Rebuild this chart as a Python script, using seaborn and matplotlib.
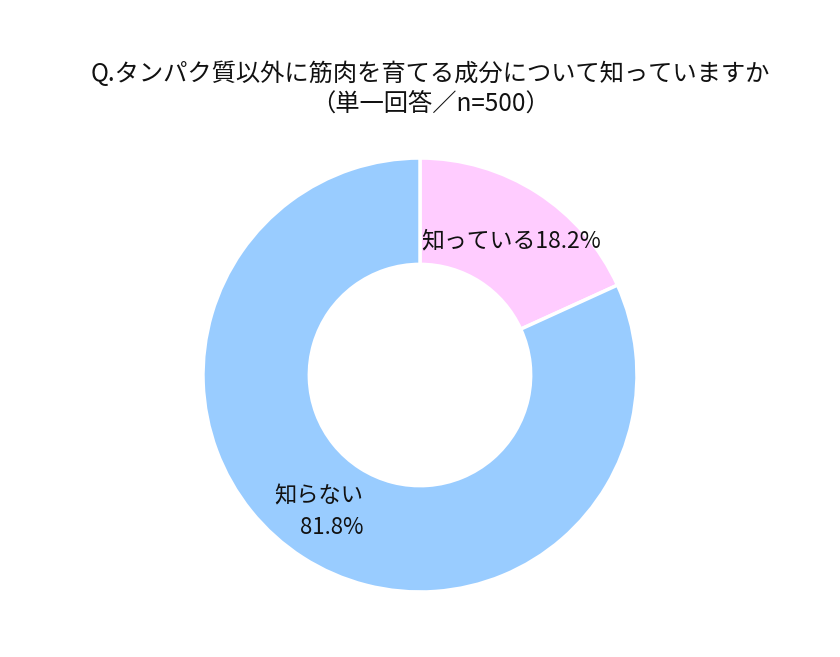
import matplotlib
matplotlib.use("Agg")
import matplotlib.pyplot as plt
import seaborn as sns

labels = ["知っている", "知らない"]
values = [18.2, 81.8]
colors = ["#FFCCFF", "#99CCFF"]
title = "Q.タンパク質以外に筋肉を育てる成分について知っていますか\n（単一回答／n=500）"

sns.set_theme(style="white")
plt.rcParams['font.family'] = ['Noto Sans CJK JP', 'DejaVu Sans']

fig = plt.figure(figsize=(8.4, 6.57), dpi=100)
ax = fig.add_axes([0.1771, 0.01636, 0.6458, 0.8257])
wedges, _ = ax.pie(values, colors=colors, startangle=90, counterclock=False,
                   radius=1.0, wedgeprops=dict(width=0.49, edgecolor="white", linewidth=2.5))
ax.set_xlim(-1.25, 1.25)
ax.set_ylim(-1.25, 1.25)
ax.set_aspect("equal")

ax.text(0.42, 0.62, f"{labels[0]}{values[0]}%", ha="center", va="center", fontsize=16.5, color="#111111")
ax.text(-0.26, -0.63, f"{labels[1]}\n{values[1]}%", ha="right", va="center", fontsize=16,
        color="#111111", linespacing=1.45, multialignment="right")

fig.text(0.512, 0.865, title, ha="center", va="center", fontsize=17.5, color="#111111", linespacing=1.2)

fig.savefig("out.png", dpi=100, facecolor="white")
